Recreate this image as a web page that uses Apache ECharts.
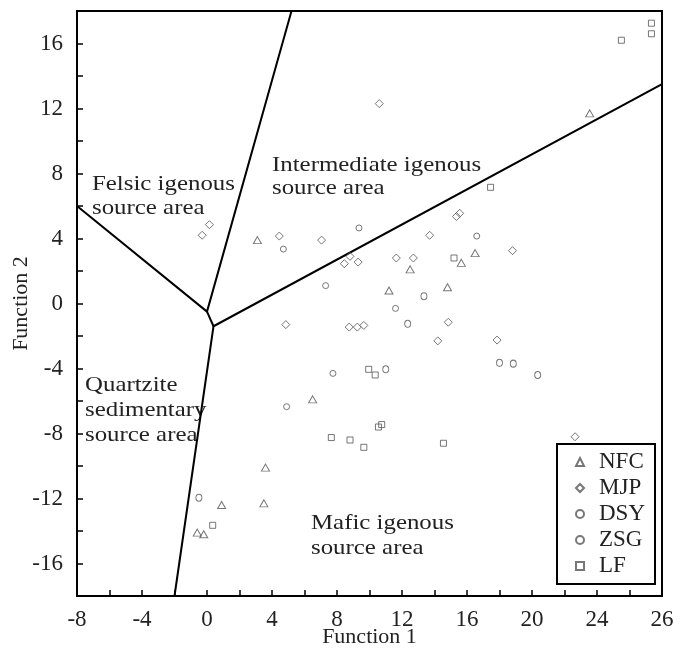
<!DOCTYPE html>
<html>
<head>
<meta charset="utf-8">
<script src="https://cdn.jsdelivr.net/npm/echarts@6/dist/echarts.min.js"></script>
<style>
html,body{margin:0;padding:0;background:#fff;}
#chart{width:685px;height:650px;}
</style>
</head>
<body>
<div id="chart"></div>
<script>
// tick labels as printed on the figure
let xTickLabels=['-8','-4','0','4','8','12','16','20','24','26'];
let yTickLabels=['-16','-12','-8','-4','0','4','8','12','16'];

// samples [Function 1, Function 2]
let nfc=[[3.1,3.9],[11.2,0.8],[12.5,2.1],[16.5,3.1],[15.65,2.5],[14.8,1.0],[6.5,-5.9],
	[3.6,-10.1],[0.9,-12.4],[3.5,-12.3],[-0.6,-14.1],[-0.2,-14.2],[23.55,11.7]];
let mjp=[[0.15,4.85],[-0.3,4.2],[4.45,4.15],[7.05,3.9],[8.8,2.9],[8.45,2.45],[9.3,2.55],
	[11.65,2.8],[12.7,2.8],[13.7,4.2],[15.35,5.35],[15.55,5.55],[18.8,3.25],[10.6,12.3],
	[4.85,-1.3],[8.75,-1.45],[9.25,-1.45],[9.65,-1.35],[14.85,-1.15],[14.2,-2.3],[17.85,-2.25],[22.65,-8.2]];
let dsy=[[4.7,3.35],[9.35,4.65],[7.3,1.1],[11.6,-0.3],[16.6,4.15],[7.75,-4.3],[4.9,-6.35]];
let zsg=[[12.35,-1.25],[13.35,0.45],[11.0,-4.05],[18.0,-3.65],[18.85,-3.7],[20.35,-4.4],[-0.5,-11.95]];
let lf=[[17.45,7.15],[15.2,2.8],[9.95,-4.05],[10.35,-4.4],[10.55,-7.6],[10.75,-7.45],
	[7.65,-8.25],[8.8,-8.4],[9.65,-8.85],[14.55,-8.6],[0.35,-13.65],[25.5,16.2],[27.35,17.25],[27.35,16.6]];

// discriminant field boundaries
let boundaryFelsic=[[-8,6],[0,-0.5],[5.2,18]];
let boundaryJoin=[[0,-0.5],[0.4,-1.4]];
let boundaryMafic=[[28,13.5],[0.4,-1.4],[-2,-18]];

let serif='"Liberation Serif", "Times New Roman", serif';
let markStyle={color:'rgba(255,255,255,0)',borderColor:'#555',borderWidth:1};

function pointSeries(name,data,symbol,size){
	return {name:name,type:'scatter',data:data,symbol:symbol,symbolSize:size,
		itemStyle:markStyle,emphasis:{disabled:true},z:3};
}
function boundary(data){
	return {type:'line',data:data,symbol:'none',silent:true,z:2,
		lineStyle:{color:'#000',width:2}};
}
function regionText(text,x,y,lh){
	return {type:'text',x:x,y:y,scaleX:1.13,silent:true,
		style:{text:text,font:'22px '+serif,fill:'#222',lineHeight:lh,align:'left',verticalAlign:'top'}};
}

let chart=echarts.init(document.getElementById('chart'));
chart.setOption({
	animation:false,
	backgroundColor:'#fff',
	grid:{left:77,top:11,right:23,bottom:54,show:true,borderColor:'#000',borderWidth:2,
		backgroundColor:'transparent',outerBoundsMode:'none'},
	xAxis:{
		type:'value',min:-8,max:28,interval:2,
		name:'Function 1',nameLocation:'middle',nameGap:30,nameMoveOverlap:false,
		nameTextStyle:{fontFamily:serif,fontSize:22,color:'#222'},
		axisLine:{show:true,onZero:false,lineStyle:{color:'#000',width:2}},
		axisTick:{inside:true,length:6,lineStyle:{color:'#000',width:1.5}},
		axisLabel:{margin:12,fontFamily:serif,fontSize:23,color:'#222',
			formatter:function(v){return v%4===0?xTickLabels[(v+8)/4]:'';}},
		splitLine:{show:false}
	},
	yAxis:{
		type:'value',min:-18,max:18,interval:2,
		name:'Function 2',nameLocation:'middle',nameGap:45,nameMoveOverlap:false,
		nameTextStyle:{fontFamily:serif,fontSize:22,color:'#222'},
		axisLine:{show:true,onZero:false,lineStyle:{color:'#000',width:2}},
		axisTick:{inside:true,length:6,lineStyle:{color:'#000',width:1.5}},
		axisLabel:{margin:14,fontFamily:serif,fontSize:23,color:'#222',
			formatter:function(v){return (v%4===0&&Math.abs(v)<=16)?yTickLabels[(v+16)/4]:'';}},
		splitLine:{show:false}
	},
	legend:{
		data:['NFC','MJP','DSY','ZSG','LF'],
		orient:'vertical',left:557,top:444,
		padding:[5,10,5,18],itemGap:0,itemWidth:8,itemHeight:8,
		backgroundColor:'#fff',borderColor:'#000',borderWidth:2,borderRadius:0,
		selectedMode:false,
		textStyle:{fontFamily:serif,fontSize:23,color:'#222',lineHeight:26,padding:[0,0,0,10]}
	},
	series:[
		boundary(boundaryFelsic),
		boundary(boundaryJoin),
		boundary(boundaryMafic),
		pointSeries('NFC',nfc,'triangle',[8,7]),
		pointSeries('MJP',mjp,'diamond',8),
		pointSeries('DSY',dsy,'circle',6),
		pointSeries('ZSG',zsg,'circle',[6,7]),
		pointSeries('LF',lf,'rect',6)
	],
	graphic:[
		regionText('Felsic igenous\nsource area',92,172,24),
		regionText('Intermediate igenous\nsource area',272,153,23.5),
		regionText('Quartzite\nsedimentary\nsource area',85,373,25),
		regionText('Mafic igenous\nsource area',311,511,25)
	]
});
</script>
</body>
</html>
